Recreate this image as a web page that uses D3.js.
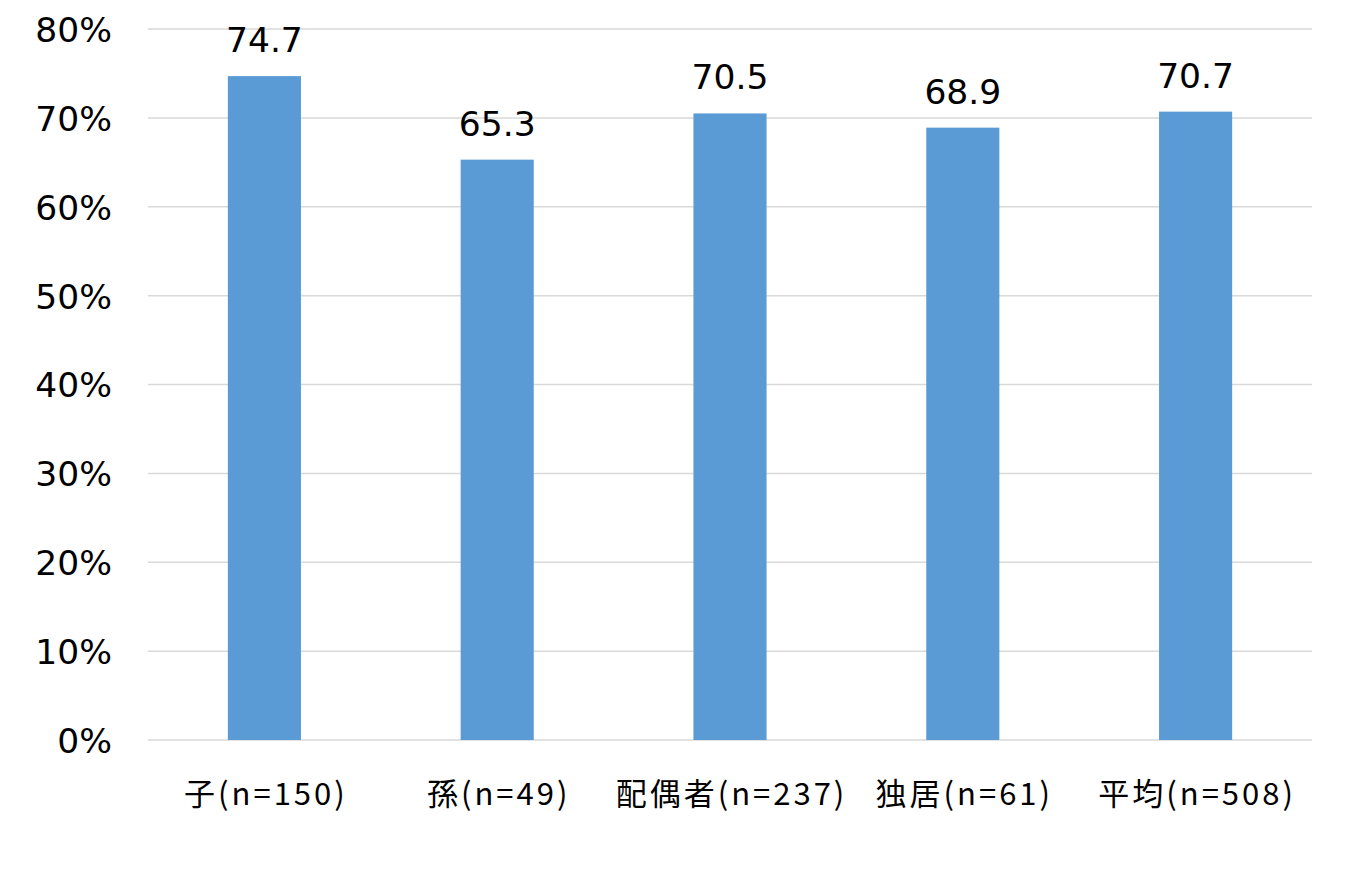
<!DOCTYPE html>
<html>
<head>
<meta charset="utf-8">
<script src="https://cdn.jsdelivr.net/npm/d3@7"></script>
<style>
html,body{margin:0;padding:0;background:#fff;}
</style>
</head>
<body>
<svg id="chart" width="1354" height="892"></svg>
<script>
const categories = ["子(n=150)", "孫(n=49)", "配偶者(n=237)", "独居(n=61)", "平均(n=508)"];
const values = [74.7, 65.3, 70.5, 68.9, 70.7];
const yTicks = [0, 10, 20, 30, 40, 50, 60, 70, 80];

const svg = d3.select("#chart");
const margin = {left: 148, right: 1312, top: 29, bottom: 740};

const x = d3.scaleBand().domain(categories).range([margin.left, margin.right]).paddingInner(0.686).paddingOuter(0.343);
const y = d3.scaleLinear().domain([0, 80]).range([margin.bottom, margin.top]);

// gridlines
svg.append("g").selectAll("line").data(yTicks).join("line")
  .attr("x1", margin.left).attr("x2", margin.right)
  .attr("y1", d => y(d)).attr("y2", d => y(d))
  .attr("stroke", "#d9d9d9").attr("stroke-width", 1.5);

// y axis labels
const yAxis = d3.axisLeft(y).tickValues(yTicks).tickFormat(d => d + "%").tickSize(0).tickPadding(0);
const yg = svg.append("g").attr("transform", `translate(${112},0)`).call(yAxis);
yg.select(".domain").remove();
yg.selectAll("text").style("font-family", "'DejaVu Sans', Verdana, sans-serif").style("font-size", "34.5px").attr("fill", "#000").attr("dy", "0.36em");

// bars
svg.append("g").selectAll("rect").data(values).join("rect")
  .attr("x", (d, i) => x(categories[i]))
  .attr("width", x.bandwidth())
  .attr("y", d => y(d))
  .attr("height", d => y(0) - y(d))
  .attr("fill", "#5b9bd5");

// value labels
svg.append("g").selectAll("text").data(values).join("text")
  .attr("x", (d, i) => x(categories[i]) + x.bandwidth() / 2)
  .attr("y", d => y(d) - 24)
  .attr("text-anchor", "middle")
  .style("font-family", "'DejaVu Sans', Verdana, sans-serif")
  .style("font-size", "34.5px")
  .attr("fill", "#000")
  .text(d => d.toFixed(1));

// category labels
const xAxis = d3.axisBottom(x).tickSize(0).tickPadding(0);
const xg = svg.append("g").attr("transform", `translate(1.5,${805})`).call(xAxis);
xg.select(".domain").remove();
xg.selectAll("text")
  .style("font-family", "'Noto Sans CJK JP', sans-serif")
  .style("font-size", "31px")
  .style("letter-spacing", "3px")
  .attr("fill", "#000")
  .attr("dy", 0)
  .attr("y", 0);
</script>
</body>
</html>
